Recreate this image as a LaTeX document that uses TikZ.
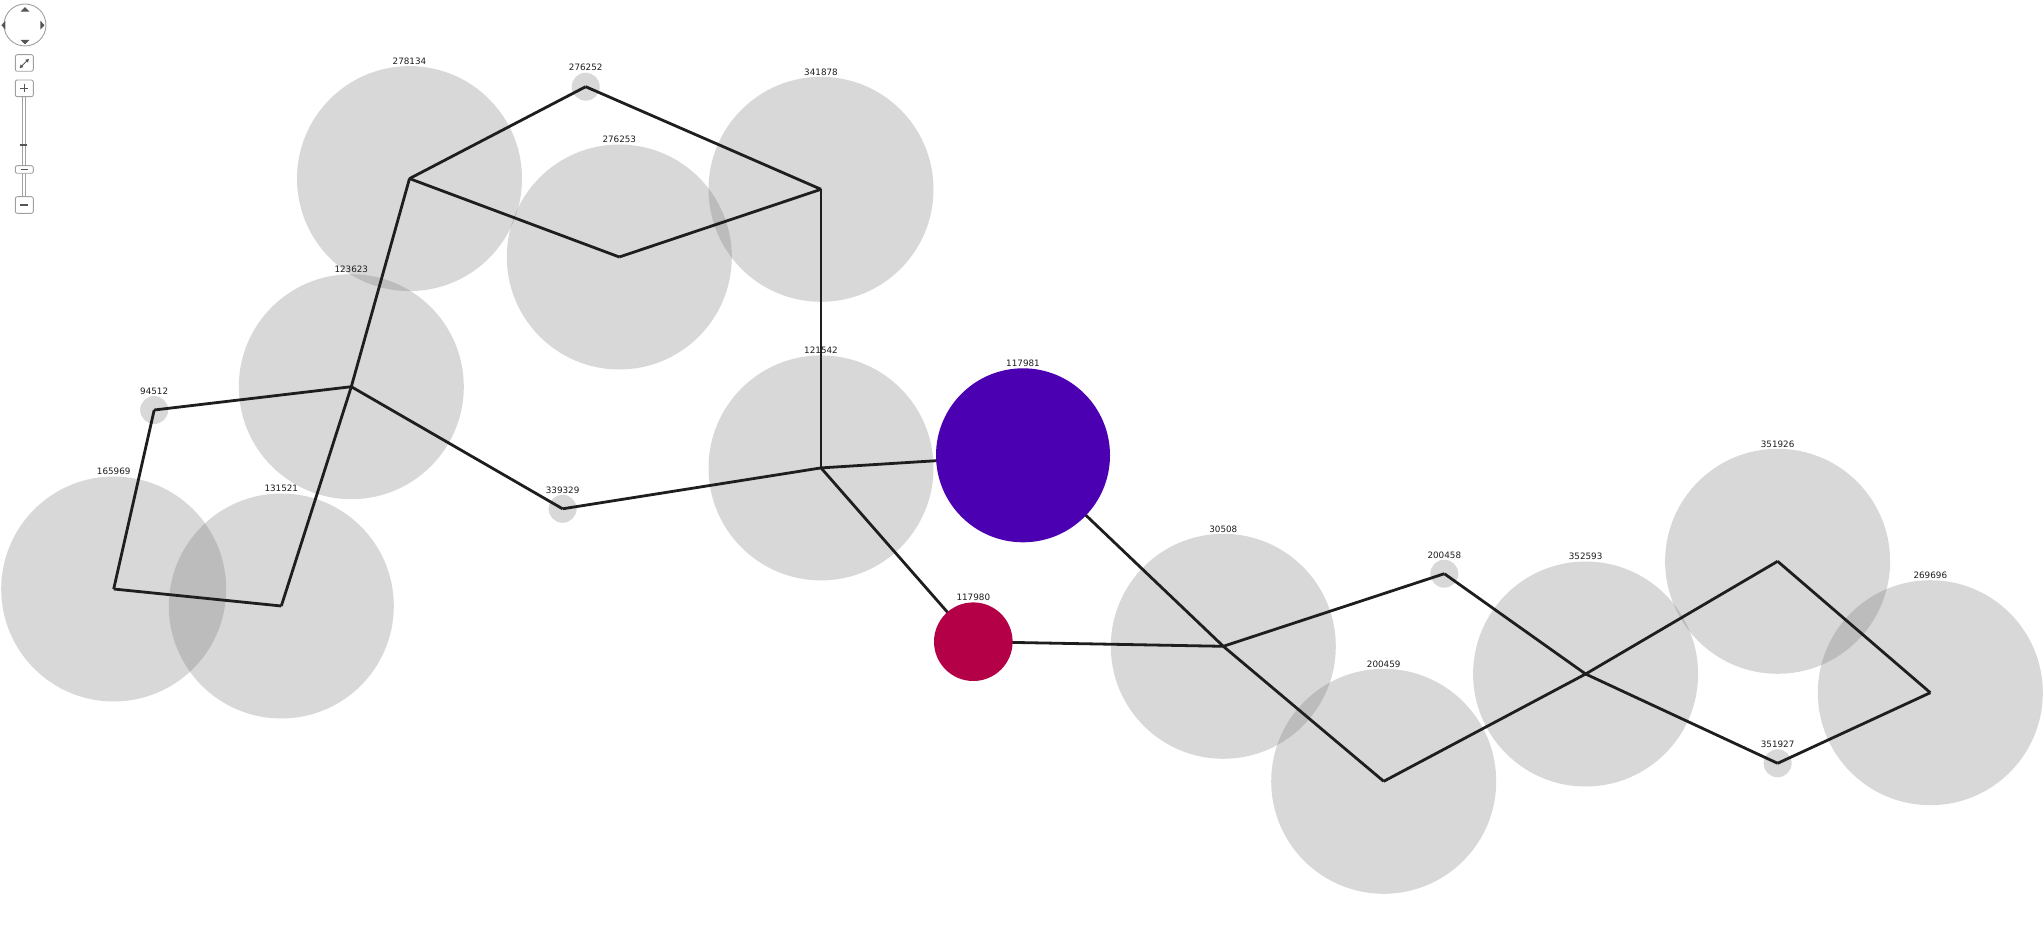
\documentclass[tikz,border=0pt]{standalone}
\usepackage{fontspec}
\setmainfont{DejaVu Sans}
\usetikzlibrary{arrows.meta}
\pgfdeclarelayer{discs}
\pgfdeclarelayer{links}
\pgfsetlayers{discs,links,main}
\definecolor{disc}{RGB}{110,110,110}
\definecolor{linkc}{RGB}{30,30,30}
\definecolor{hub}{RGB}{75,0,178}
\definecolor{leaf}{RGB}{179,0,71}
\definecolor{navline}{RGB}{160,160,160}
\definecolor{navmark}{RGB}{85,85,85}
\definecolor{lblc}{RGB}{30,30,30}
\tikzset{
  bigdisc/.style={circle, fill=disc, fill opacity=0.263, draw=none, minimum size=225pt, inner sep=0pt},
  smalldisc/.style={circle, fill=disc, fill opacity=0.263, draw=none, minimum size=28pt, inner sep=0pt},
  hubdisc/.style={circle, fill=hub, draw=none, minimum size=174pt, inner sep=0pt},
  leafdisc/.style={circle, fill=leaf, draw=none, minimum size=78.6pt, inner sep=0pt},
  lbl/.style={font=\fontsize{8.8}{10}\selectfont, text=lblc, anchor=base, inner sep=0pt, yshift=-1.3pt},
  link/.style={draw=linkc, line width=2.8pt, line join=round},
  navbox/.style={draw=navline, fill=white, line width=0.9pt, rounded corners=2pt},
  navmk/.style={draw=navmark, line width=1.6pt},
  navtri/.style={fill=navmark, draw=none}
}
\begin{document}
\begin{tikzpicture}[x=1pt, y=-1pt]
\useasboundingbox (0,0) rectangle (2044,952);

% gray discs
\begin{pgfonlayer}{discs}
\fill[white] (0,0) rectangle (2044,952);
\node[bigdisc] (n278134) at (409.5,178.6) {};
\node[smalldisc] (n276252) at (585.7,86.7) {};
\node[bigdisc] (n341878) at (821,189.3) {};
\node[bigdisc] (n276253) at (619.3,257) {};
\node[bigdisc] (n123623) at (351.3,386.7) {};
\node[smalldisc] (n94512) at (154.2,410) {};
\node[bigdisc] (n165969) at (113.7,589) {};
\node[bigdisc] (n131521) at (281.3,606) {};
\node[smalldisc] (n339329) at (562.6,508.8) {};
\node[bigdisc] (n121542) at (821,467.9) {};
\node[bigdisc] (n30508) at (1223.3,646.3) {};
\node[smalldisc] (n200458) at (1444.3,573.7) {};
\node[bigdisc] (n200459) at (1383.7,781.3) {};
\node[bigdisc] (n352593) at (1585.6,674) {};
\node[bigdisc] (n351926) at (1777.6,561.3) {};
\node[smalldisc] (n351927) at (1777.6,763.3) {};
\node[bigdisc] (n269696) at (1930.3,692.7) {};
\end{pgfonlayer}

% coloured discs
\node[hubdisc] (n117981) at (1023,455.3) {};
\node[leafdisc] (n117980) at (973.3,641.7) {};

% links
\begin{pgfonlayer}{links}
\draw[link] (n278134.center) -- (n276252.center);
\draw[link] (n276252.center) -- (n341878.center);
\draw[link] (n278134.center) -- (n276253.center);
\draw[link] (n276253.center) -- (n341878.center);
\draw[link] (n278134.center) -- (n123623.center);
\draw[link] (n341878.center) -- (n121542.center);
\draw[link] (n123623.center) -- (n94512.center);
\draw[link] (n123623.center) -- (n131521.center);
\draw[link] (n123623.center) -- (n339329.center);
\draw[link] (n94512.center) -- (n165969.center);
\draw[link] (n165969.center) -- (n131521.center);
\draw[link] (n339329.center) -- (n121542.center);
\draw[link] (n121542.center) -- (n117981.center);
\draw[link] (n121542.center) -- (n117980.center);
\draw[link] (n117980.center) -- (n30508.center);
\draw[link] (n117981.center) -- (n30508.center);
\draw[link] (n30508.center) -- (n200458.center);
\draw[link] (n30508.center) -- (n200459.center);
\draw[link] (n200458.center) -- (n352593.center);
\draw[link] (n200459.center) -- (n352593.center);
\draw[link] (n352593.center) -- (n351926.center);
\draw[link] (n352593.center) -- (n351927.center);
\draw[link] (n351926.center) -- (n269696.center);
\draw[link] (n351927.center) -- (n269696.center);
\end{pgfonlayer}

% labels
\node[lbl] (l278134) at (409.5,63.1) {278134};
\node[lbl] (l276252) at (585.7,69.7) {276252};
\node[lbl] (l341878) at (821,73.8) {341878};
\node[lbl] (l276253) at (619.3,141.5) {276253};
\node[lbl] (l123623) at (351.3,271.2) {123623};
\node[lbl] (l94512) at (154.2,393) {94512};
\node[lbl] (l165969) at (113.7,473.5) {165969};
\node[lbl] (l131521) at (281.3,490.5) {131521};
\node[lbl] (l339329) at (562.6,491.8) {339329};
\node[lbl] (l121542) at (821,352.4) {121542};
\node[lbl] (l117981) at (1023,365.3) {117981};
\node[lbl] (l117980) at (973.3,599.4) {117980};
\node[lbl] (l30508) at (1223.3,530.8) {30508};
\node[lbl] (l200458) at (1444.3,556.7) {200458};
\node[lbl] (l200459) at (1383.7,665.8) {200459};
\node[lbl] (l352593) at (1585.6,558.5) {352593};
\node[lbl] (l351926) at (1777.6,445.8) {351926};
\node[lbl] (l351927) at (1777.6,746.3) {351927};
\node[lbl] (l269696) at (1930.3,577.2) {269696};

% navigation control
\draw[draw=navline, fill=white, line width=0.9pt] (25,25) circle (21);
\fill[navtri] (20.5,11.6) -- (29.5,11.6) -- (25,7) -- cycle;
\fill[navtri] (20.5,39.8) -- (29.5,39.8) -- (25,44.5) -- cycle;
\fill[navtri] (5.4,20.8) -- (5.4,29.6) -- (1.4,25.2) -- cycle;
\fill[navtri] (40.4,20.8) -- (40.4,29.6) -- (44.5,25.2) -- cycle;
\draw[navbox] (15.3,54.7) rectangle (33.3,71.3);
\draw[navmark, line width=0.9pt, {Triangle[length=3.5pt,width=3.5pt]}-{Triangle[length=3.5pt,width=3.5pt]}] (19.6,68.2) -- (29,58.8);
\draw[draw=navline, fill=white, line width=0.8pt] (22,96) rectangle (25.6,197);
\draw[navbox] (15.3,80) rectangle (33.3,96.7);
\draw[navmk] (20.3,88.4) -- (28.3,88.4);
\draw[navmk] (24.3,84.4) -- (24.3,92.4);
\draw[navmk] (19.5,145) -- (27.3,145);
\draw[navbox] (15.3,165.7) rectangle (33.3,173.3);
\draw[navmk] (20.5,169.5) -- (28,169.5);
\draw[navbox] (15.3,196.7) rectangle (33.3,213.3);
\draw[navmk] (20.3,205) -- (28.3,205);
\end{tikzpicture}
\end{document}
